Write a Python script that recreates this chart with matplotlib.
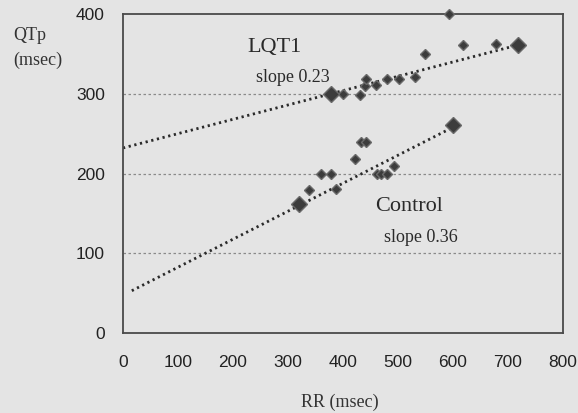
import matplotlib.pyplot as plt

# data
lqt1_rr = [378, 400, 431, 440, 441, 460, 480, 502, 531, 549, 592, 618, 679, 718]
lqt1_qt = [300, 300, 299, 310, 319, 311, 319, 319, 321, 350, 400, 361, 363, 361]
lqt1_big = [378, 718]
lqt1_big_qt = [300, 361]

ctrl_rr = [320, 339, 360, 379, 387, 422, 432, 442, 461, 470, 480, 493, 600]
ctrl_qt = [162, 179, 200, 200, 180, 218, 240, 240, 200, 200, 200, 210, 261]
ctrl_big = [320, 600]
ctrl_big_qt = [162, 261]

# trend lines (end points as drawn)
lqt1_fit_x = [0, 712]
lqt1_fit_y = [232, 360]
ctrl_fit_x = [16, 600]
ctrl_fit_y = [53, 258]

xticks = [0, 100, 200, 300, 400, 500, 600, 700, 800]
yticks = [0, 100, 200, 300, 400]

bg = "#e4e4e4"
serif = "Liberation Serif"
sans = "Liberation Sans"

fig = plt.figure(figsize=(5.78, 4.13), dpi=100, facecolor=bg)
ax = fig.add_axes([0.2128, 0.1937, 0.7612, 0.7724], facecolor=bg)

ax.set_xlim(0, 800)
ax.set_ylim(0, 400)

for y in [100, 200, 300]:
    ax.axhline(y, color="#8a8a8a", lw=0.9, ls=(0, (2, 2)), zorder=1)

ax.plot(lqt1_fit_x, lqt1_fit_y, color="#2a2a2a", lw=2.0, ls=(0, (0.8, 1.3)), zorder=2)
ax.plot(ctrl_fit_x, ctrl_fit_y, color="#2a2a2a", lw=2.0, ls=(0, (0.8, 1.3)), zorder=2)

mk = dict(marker="D", ls="none", mfc="#3c3c3c", mec="#6a6a6a", mew=1.0, zorder=3, clip_on=False)
ax.plot(lqt1_rr, lqt1_qt, ms=5.2, **mk)
ax.plot(ctrl_rr, ctrl_qt, ms=5.2, **mk)
ax.plot(lqt1_big, lqt1_big_qt, ms=7.8, **mk)
ax.plot(ctrl_big, ctrl_big_qt, ms=7.8, **mk)

ax.text(276, 358, "LQT1", family=serif, fontsize=16, color="#2a2a2a", ha="center", va="center")
ax.text(309, 321, "slope 0.23", family=serif, fontsize=13, color="#2a2a2a", ha="center", va="center")
ax.text(520, 158, "Control", family=serif, fontsize=16, color="#2a2a2a", ha="center", va="center")
ax.text(542, 120, "slope 0.36", family=serif, fontsize=13, color="#2a2a2a", ha="center", va="center")

for s in ax.spines.values():
    s.set_color("#4a4a4a")
    s.set_linewidth(1.3)

ax.set_xticks(xticks)
ax.set_yticks(yticks)
ax.tick_params(length=0, labelsize=12.5, colors="#222222")
ax.tick_params(axis="x", pad=16)
ax.tick_params(axis="y", pad=13)
for lab in ax.get_xticklabels() + ax.get_yticklabels():
    lab.set_family(sans)

fig.text(13 / 578, 1 - 35 / 413, "QTp", family=serif, fontsize=13, color="#333333", ha="left", va="center")
fig.text(13 / 578, 1 - 60 / 413, "(msec)", family=serif, fontsize=13, color="#333333", ha="left", va="center")
fig.text(340 / 578, 1 - 402 / 413, "RR (msec)", family=serif, fontsize=13, color="#333333", ha="center", va="center")

fig.savefig("out.png", dpi=100, facecolor=bg)
